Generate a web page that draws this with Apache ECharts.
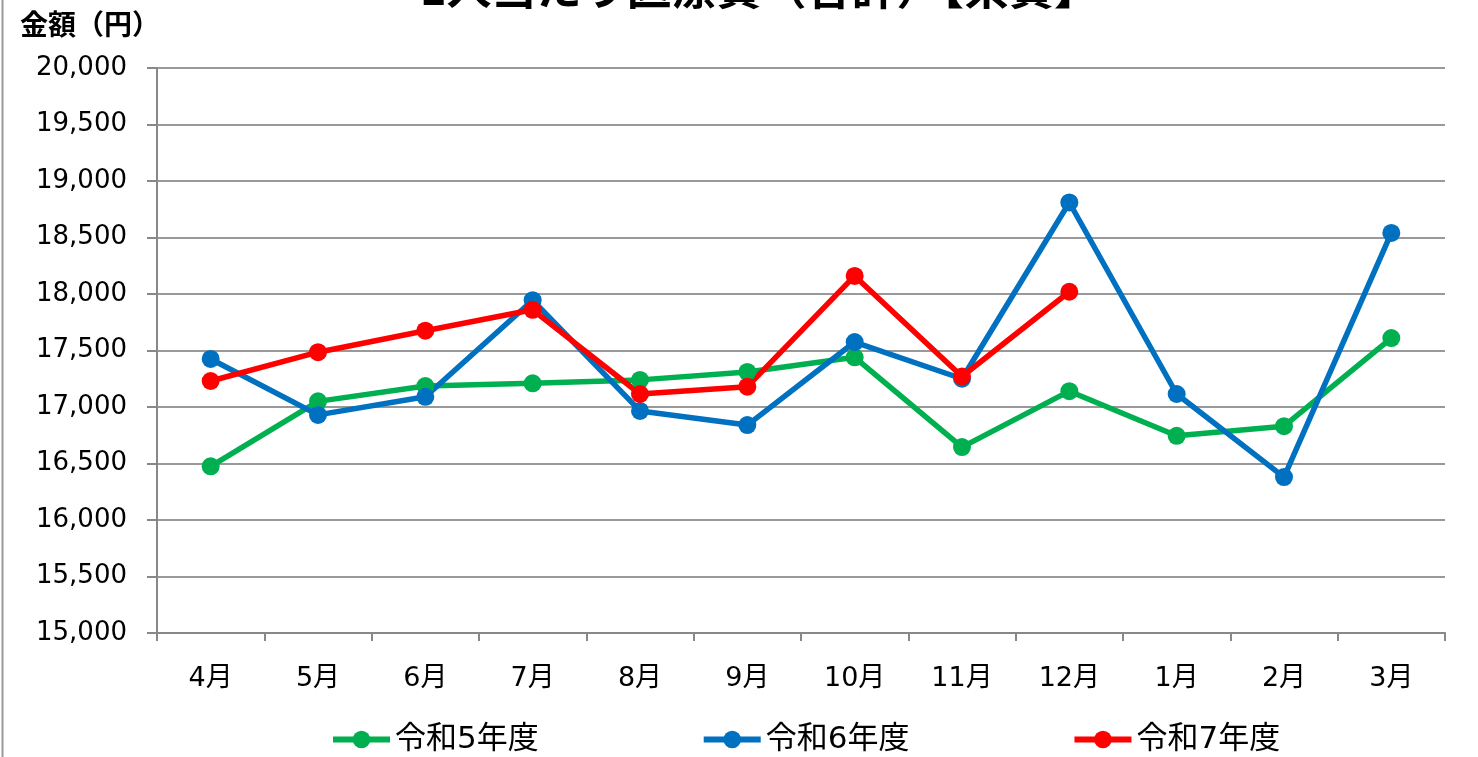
<!DOCTYPE html>
<html>
<head>
<meta charset="utf-8">
<script src="https://cdn.jsdelivr.net/npm/echarts@6/dist/echarts.min.js"></script>
<style>
  html, body { margin: 0; padding: 0; background: #fff; }
  #chart { width: 1478px; height: 757px; }
</style>
</head>
<body>
<div id="chart"></div>
<script>
// 月（年度順）
const months = ['4月', '5月', '6月', '7月', '8月', '9月', '10月', '11月', '12月', '1月', '2月', '3月']
// 1人当たり医療費（円）
const r5 = [16475, 17050, 17185, 17210, 17240, 17310, 17440, 16645, 17140, 16745, 16830, 17610]
const r6 = [17425, 16930, 17090, 17945, 16965, 16840, 17575, 17250, 18810, 17115, 16380, 18540]
const r7 = [17230, 17485, 17675, 17860, 17115, 17180, 18160, 17270, 18020, null, null, null]
const seriesNames = ['令和5年度', '令和6年度', '令和7年度']
const yMin = 15000
const yMax = 20000
const yStep = 500

const font = '"DejaVu Sans", "Noto Sans CJK JP", sans-serif'
const cjkFont = '"Noto Sans CJK JP", sans-serif'

const myEchart = echarts.init(document.getElementById('chart'))

const mkSeries = (name, data, color) => ({
  name: name,
  type: 'line',
  data: data,
  color: color,
  symbol: 'circle',
  symbolSize: 18,
  lineStyle: { width: 5.5, color: color },
  itemStyle: { color: color },
  connectNulls: false,
  animation: false
})

const option = {
  animation: false,
  graphic: [
    // 上端で切れているタイトル
    {
      type: 'text',
      left: 420,
      top: -35,
      style: {
        text: '1人当たり医療費（合計）【県費】',
        font: 'bold 45px ' + cjkFont,
        fill: '#000'
      }
    },
    {
      type: 'text',
      left: 20,
      top: 10,
      style: {
        text: '金額（円）',
        font: 'bold 28px ' + cjkFont,
        fill: '#000'
      }
    },
    {
      type: 'line',
      shape: { x1: 2.5, y1: 0, x2: 2.5, y2: 757 },
      style: { stroke: '#999', lineWidth: 2 }
    }
  ],
  legend: {
    left: 325,
    top: 719,
    itemWidth: 57,
    itemHeight: 22,
    itemGap: 162,
    lineStyle: { width: 6 },
    textStyle: { fontFamily: font, fontSize: 31, color: '#000' },
    data: seriesNames
  },
  grid: {
    left: 157,
    right: 33,
    top: 68,
    bottom: 124
  },
  xAxis: {
    type: 'category',
    data: months,
    boundaryGap: true,
    axisLine: { lineStyle: { color: '#888', width: 2 } },
    axisTick: { show: true, length: 8, lineStyle: { color: '#888', width: 2 } },
    axisLabel: {
      margin: 32,
      fontFamily: font,
      fontSize: 27,
      color: '#000'
    }
  },
  yAxis: {
    type: 'value',
    min: yMin,
    max: yMax,
    interval: yStep,
    axisLine: { show: true, lineStyle: { color: '#888', width: 2 } },
    axisTick: { show: true, length: 10, lineStyle: { color: '#888', width: 2 } },
    splitLine: { lineStyle: { color: '#999', width: 2 } },
    axisLabel: {
      margin: 30,
      fontFamily: font,
      fontSize: 26,
      color: '#000',
      formatter: (v) => v.toLocaleString('en-US')
    }
  },
  series: [
    mkSeries(seriesNames[0], r5, '#00B050'),
    mkSeries(seriesNames[1], r6, '#0070C0'),
    mkSeries(seriesNames[2], r7, '#FF0000')
  ]
}

myEchart.setOption(option, { notMerge: true })
</script>
</body>
</html>
